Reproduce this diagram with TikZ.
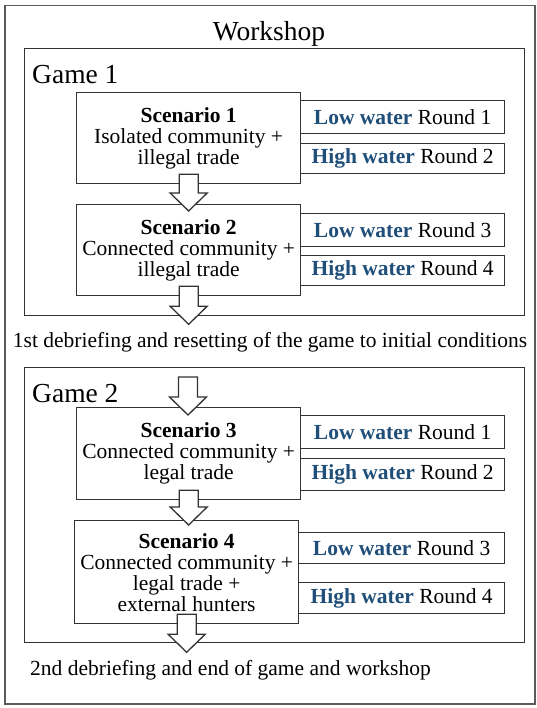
\documentclass[tikz,border=0pt]{standalone}
\usepackage{fontspec}
\setmainfont{Liberation Serif}
\usetikzlibrary{calc}
\definecolor{wblue}{RGB}{31,78,121}
\definecolor{lineg}{RGB}{50,50,50}
\tikzset{
  frame/.style={draw=lineg, line width=1.3pt, inner sep=0pt},
  scen/.style={frame, anchor=north west, minimum width=224pt, align=center, font=\fontsize{21.5}{21}\selectfont},
  roundbox/.style={frame, anchor=north west, minimum width=204pt, font=\fontsize{21.5}{24}\selectfont},
  big/.style={font=\fontsize{27.5}{30}\selectfont, inner sep=0pt},
  body/.style={font=\fontsize{21.5}{24}\selectfont, inner sep=0pt},
  barrow/.style={draw=lineg, line width=1.3pt, fill=white, line join=miter},
}
\newcommand\lowW{\textbf{\color{wblue}Low water}}
\newcommand\highW{\textbf{\color{wblue}High water}}
\newcommand\blkarrow[2]{%
  \draw[barrow] ($(#1)+(-9.5,0)$) -- ($(#1|-#2)+(-9.5,-18)$) -- ($(#1|-#2)+(-18.5,-18)$) -- (#1|-#2) -- ($(#1|-#2)+(18.5,-18)$) -- ($(#1|-#2)+(9.5,-18)$) -- ($(#1)+(9.5,0)$) -- cycle;}
\begin{document}
\begin{tikzpicture}[x=1pt,y=-1pt]
\useasboundingbox (0,0) rectangle (537,708);
% outer frame
\node[frame, draw=lineg!80, line width=1.5pt, anchor=north west, minimum width=530pt, minimum height=698pt] (outer) at (4,5) {};
\node[big, anchor=base] (title) at (269,41) {Workshop};
% game 1
\node[frame, anchor=north west, minimum width=500pt, minimum height=267pt] (g1) at (24,48) {};
\node[big, anchor=base west] (g1l) at (32,84) {Game 1};
\node[scen, minimum height=91pt] (s1) at (76,92) {\textbf{Scenario 1}\\Isolated community +\\illegal trade};
\node[roundbox, minimum height=33pt] (r1) at (300,100) {\lowW\ Round 1};
\node[roundbox, minimum height=30pt] (r2) at (300,143) {\highW\ Round 2};
\node[scen, minimum height=91pt] (s2) at (76,204) {\textbf{Scenario 2}\\Connected community +\\illegal trade};
\node[roundbox, minimum height=33pt] (r3) at (300,213) {\lowW\ Round 3};
\node[roundbox, minimum height=30pt] (r4) at (300,255) {\highW\ Round 4};
% debriefing 1
\node[body, anchor=base] (d1) at (270,347) {1st debriefing and resetting of the game to initial conditions};
% game 2
\node[frame, anchor=north west, minimum width=500pt, minimum height=275pt] (g2) at (24,367) {};
\node[big, anchor=base west] (g2l) at (32,402) {Game 2};
\node[scen, minimum height=92pt] (s3) at (76,407) {\textbf{Scenario 3}\\Connected community +\\legal trade};
\node[roundbox, minimum height=33pt] (r5) at (300,415) {\lowW\ Round 1};
\node[roundbox, minimum height=32pt] (r6) at (300,458) {\highW\ Round 2};
\node[scen, minimum height=103pt] (s4) at (74,520) {\textbf{Scenario 4}\\Connected community +\\legal trade +\\external hunters};
\node[roundbox, minimum width=206pt, minimum height=31pt] (r7) at (298,532) {\lowW\ Round 3};
\node[roundbox, minimum width=206pt, minimum height=31pt] (r8) at (298,582) {\highW\ Round 4};
\node[body, anchor=base west] (d2) at (30,675) {2nd debriefing and end of game and workshop};
% arrow end points
\coordinate (b1) at ($(s1.south)+(0,-10)$);
\coordinate (t1) at ($(s2.north)+(0,7)$);
\coordinate (b2) at ($(s2.south)+(0,-10)$);
\coordinate (t2) at ($(s2.south)+(0,28)$);
\coordinate (b3) at (188,377);
\coordinate (t3) at ($(s3.north)+(0,8)$);
\coordinate (b4) at ($(s3.south)+(0,-10)$);
\coordinate (t4) at ($(s4.north)+(0,5)$);
\coordinate (b5) at ($(s4.south)+(0,-10)$);
\coordinate (t5) at ($(s4.south)+(0,28)$);
% block arrows
\blkarrow{b1}{t1}
\blkarrow{b2}{t2}
\blkarrow{b3}{t3}
\blkarrow{b4}{t4}
\blkarrow{b5}{t5}
\end{tikzpicture}
\end{document}
